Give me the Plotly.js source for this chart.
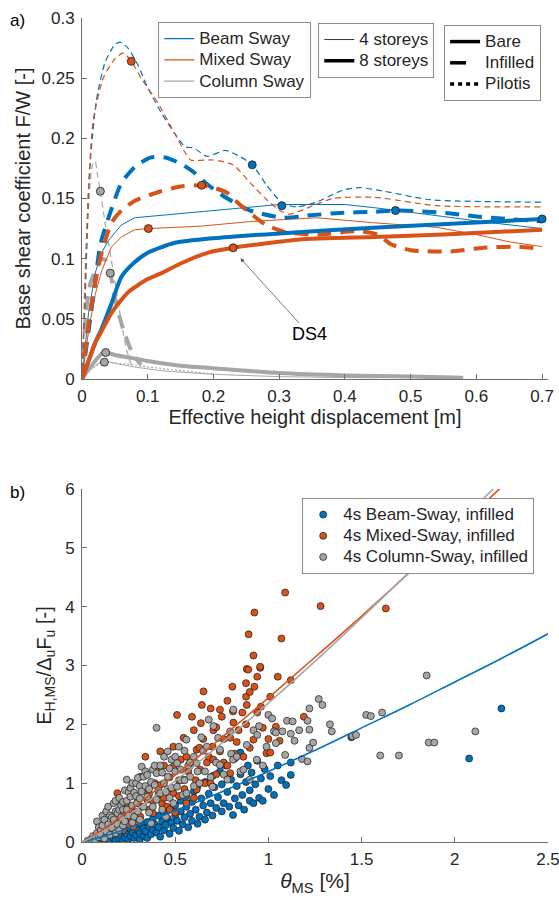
<!DOCTYPE html>
<html>
<head>
<meta charset="utf-8">
<script src="https://cdn.plot.ly/plotly-3.0.1.min.js"></script>
<style>html,body{margin:0;padding:0;background:#fff}#chart{width:559px;height:901px}</style>
</head>
<body>
<div id="chart"></div>
<script>
// ---------- Panel a) pushover curves ----------
const bsBare4X = [0,0.005,0.01,0.02,0.03,0.04,0.06,0.08,0.12,0.19,0.3,0.4,0.45,0.55,0.62,0.7];
const bsBare4Y = [0,0.03,0.055,0.088,0.105,0.115,0.128,0.134,0.136,0.139,0.145,0.145,0.142,0.135,0.13,0.125];
const msBare4X = [0,0.005,0.01,0.02,0.03,0.045,0.06,0.08,0.101,0.18,0.26,0.357,0.44,0.54,0.6,0.65,0.7];
const msBare4Y = [0,0.022,0.04,0.07,0.09,0.11,0.118,0.124,0.125,0.127,0.131,0.134,0.13,0.126,0.12,0.114,0.11];
const bsBare8X = [0,0.01,0.02,0.03,0.045,0.06,0.08,0.1,0.14,0.2,0.3,0.45,0.6,0.7];
const bsBare8Y = [0,0.015,0.03,0.042,0.063,0.085,0.097,0.105,0.113,0.117,0.121,0.126,0.13,0.133];
const msBare8X = [0,0.01,0.02,0.03,0.045,0.07,0.1,0.121,0.15,0.192,0.23,0.331,0.445,0.55,0.7];
const msBare8Y = [0,0.015,0.03,0.04,0.055,0.072,0.083,0.088,0.096,0.105,0.109,0.116,0.118,0.12,0.124];
const bsInf4X = [0,0.005,0.01,0.014,0.022,0.035,0.05,0.058,0.07,0.086,0.1,0.121,0.14,0.157,0.17,0.19,0.218,0.24,0.259,0.281,0.305,0.327,0.357,0.397,0.423,0.45,0.53,0.7];
const bsInf4Y = [0,0.07,0.155,0.19,0.232,0.263,0.278,0.28,0.275,0.26,0.242,0.221,0.205,0.193,0.192,0.185,0.19,0.185,0.178,0.161,0.146,0.143,0.147,0.157,0.159,0.157,0.149,0.147];
const msInf4X = [0,0.005,0.01,0.017,0.033,0.05,0.063,0.075,0.09,0.116,0.14,0.157,0.165,0.2,0.23,0.256,0.281,0.301,0.316,0.342,0.382,0.445,0.54,0.7];
const msInf4Y = [0,0.09,0.16,0.215,0.251,0.266,0.271,0.264,0.25,0.229,0.205,0.188,0.182,0.182,0.178,0.163,0.149,0.14,0.137,0.142,0.15,0.151,0.144,0.143];
const bsInf8X = [0,0.01,0.02,0.028,0.044,0.06,0.08,0.104,0.127,0.15,0.172,0.19,0.218,0.256,0.306,0.347,0.392,0.445,0.477,0.554,0.6,0.7];
const bsInf8Y = [0,0.04,0.08,0.112,0.14,0.163,0.176,0.184,0.184,0.179,0.171,0.162,0.151,0.14,0.134,0.136,0.138,0.139,0.14,0.138,0.135,0.131];
const msInf8X = [0,0.01,0.02,0.03,0.045,0.06,0.08,0.12,0.15,0.182,0.2,0.22,0.24,0.26,0.28,0.31,0.36,0.42,0.45,0.47,0.5,0.56,0.61,0.66,0.7];
const msInf8Y = [0,0.045,0.08,0.105,0.13,0.14,0.148,0.156,0.16,0.161,0.159,0.155,0.145,0.136,0.128,0.122,0.12,0.123,0.12,0.112,0.107,0.106,0.109,0.11,0.108];
const csInf4X = [0,0.004,0.008,0.012,0.016,0.02,0.024,0.028,0.035,0.048,0.06,0.068,0.076];
const csInf4Y = [0,0.06,0.12,0.16,0.178,0.181,0.168,0.156,0.13,0.088,0.047,0.024,0.01];
const csInf8X = [0,0.003,0.006,0.012,0.02,0.03,0.037,0.043,0.05,0.058,0.066,0.078,0.09];
const csInf8Y = [0,0.03,0.055,0.078,0.09,0.1,0.098,0.088,0.068,0.05,0.036,0.02,0.012];
const csBare8X = [0,0.01,0.02,0.03,0.036,0.05,0.07,0.1,0.15,0.2,0.3,0.4,0.5,0.58];
const csBare8Y = [0,0.008,0.015,0.021,0.022,0.02,0.018,0.015,0.011,0.009,0.005,0.003,0.002,0.001];
const csBare4X = [0,0.01,0.02,0.034,0.05,0.08,0.12,0.2,0.3,0.45];
const csBare4Y = [0,0.006,0.011,0.015,0.013,0.01,0.007,0.004,0.002,0.001];
const csPil4X = [0,0.01,0.03,0.06,0.1,0.15,0.2];
const csPil4Y = [0,0.007,0.014,0.013,0.01,0.007,0.004];
// DS4 points
const ds4BlueX = [0.259,0.304,0.477,0.70];
const ds4BlueY = [0.178,0.144,0.140,0.133];
const ds4OrangeX = [0.075,0.101,0.182,0.23];
const ds4OrangeY = [0.264,0.125,0.161,0.109];
const ds4GrayX = [0.028,0.043,0.036,0.034];
const ds4GrayY = [0.156,0.088,0.022,0.014];

// ---------- Panel b) energy vs drift ----------
const beamX = [0.04,0.06,0.07,0.09,0.1,0.11,0.12,0.13,0.14,0.15,0.16,0.17,0.18,0.18,0.2,0.2,0.21,0.22,0.23,0.23,0.24,0.25,0.26,0.26,0.27,0.28,0.29,0.29,0.3,0.31,0.31,0.32,0.33,0.33,0.34,0.35,0.35,0.36,0.37,0.38,0.38,0.39,0.4,0.41,0.41,0.42,0.43,0.44,0.44,0.45,0.46,0.47,0.47,0.48,0.49,0.5,0.5,0.51,0.52,0.53,0.53,0.54,0.55,0.56,0.56,0.57,0.58,0.59,0.59,0.6,0.61,0.62,0.62,0.63,0.64,0.65,0.66,0.66,0.67,0.68,0.69,0.7,0.7,0.71,0.72,0.73,0.74,0.75,0.75,0.76,0.77,0.78,0.79,0.8,0.81,0.82,0.82,0.83,0.84,0.85,0.85,0.86,0.87,0.88,0.89,0.9,0.9,0.91,0.92,0.93,0.94,0.95,0.96,0.97,0.98,1.0,1.01,1.03,1.05,1.07,1.095,1.12,1.12,1.445,2.077,2.25];
const beamY = [0.01,0.03,0.01,0.05,0.02,0.07,0.03,0.1,0.05,0.02,0.12,0.06,0.09,0.03,0.15,0.06,0.11,0.02,0.19,0.08,0.13,0.05,0.22,0.1,0.16,0.07,0.27,0.12,0.2,0.04,0.15,0.3,0.1,0.23,0.18,0.34,0.07,0.26,0.13,0.21,0.39,0.3,0.16,0.45,0.25,0.09,0.35,0.2,0.5,0.29,0.4,0.14,0.57,0.33,0.24,0.45,0.62,0.36,0.19,0.52,0.7,0.3,0.42,0.6,0.78,0.25,0.48,0.36,0.68,0.86,0.55,0.31,0.95,0.43,0.74,0.62,1.02,0.38,0.5,0.82,0.66,1.12,0.45,0.93,0.58,0.76,1.2,0.52,0.98,0.66,1.3,0.85,0.6,1.06,0.46,1.42,0.74,0.95,0.62,1.52,1.15,0.8,0.55,1.02,1.3,0.7,0.88,1.18,0.66,0.98,1.38,0.75,1.08,0.7,1.24,0.9,1.12,0.8,1.3,1.05,0.97,1.14,1.35,1.78,1.42,2.27];
const mixedX = [0.06,0.08,0.1,0.11,0.12,0.13,0.15,0.16,0.17,0.19,0.2,0.205,0.22,0.22,0.24,0.25,0.26,0.276,0.28,0.3,0.3,0.313,0.313,0.32,0.33,0.34,0.35,0.36,0.36,0.38,0.38,0.39,0.4,0.41,0.42,0.42,0.43,0.44,0.44,0.455,0.46,0.47,0.47,0.49,0.49,0.49,0.5,0.51,0.52,0.52,0.53,0.545,0.545,0.55,0.56,0.56,0.57,0.58,0.59,0.6,0.6,0.61,0.615,0.615,0.63,0.634,0.638,0.643,0.65,0.652,0.66,0.67,0.68,0.69,0.69,0.7,0.705,0.705,0.72,0.72,0.74,0.74,0.75,0.76,0.76,0.78,0.78,0.795,0.795,0.807,0.81,0.812,0.82,0.83,0.84,0.86,0.866,0.88,0.88,0.88,0.884,0.884,0.892,0.894,0.9,0.9,0.92,0.92,0.925,0.925,0.94,0.94,0.956,0.956,0.96,0.97,0.99,1.0,1.01,1.01,1.04,1.05,1.06,1.07,1.09,1.12,1.19,1.28,1.63];
const mixedY = [0.05,0.1,0.2,0.08,0.1,0.15,0.25,0.3,0.15,0.83,0.35,0.32,0.45,0.2,0.6,0.3,0.42,0.26,0.5,0.7,0.35,0.43,1.11,0.6,0.9,1.45,0.72,0.55,0.82,0.49,0.7,1.0,1.23,0.8,0.97,1.54,0.65,1.3,0.75,0.6,0.9,1.1,0.55,0.83,1.28,1.62,0.5,2.16,1.05,0.78,1.4,1.06,1.77,0.9,0.66,1.45,1.2,1.3,2.13,1.9,0.75,1.05,0.89,1.57,1.6,1.23,2.02,2.33,1.75,2.56,1.0,1.35,1.45,1.0,2.27,1.62,1.4,1.9,1.15,1.95,2.25,1.54,2.13,1.75,1.35,1.3,2.4,1.17,1.77,2.64,2.22,2.03,1.5,1.7,1.9,2.2,1.45,2.7,2.47,2.0,2.33,2.94,2.93,3.53,1.6,2.55,1.74,3.17,2.64,3.9,2.81,2.2,2.96,2.98,2.3,1.94,1.51,1.75,2.47,1.52,1.96,2.81,1.72,3.46,4.24,2.75,2.13,4.01,3.97];
const columnX = [0.03,0.05,0.06,0.07,0.08,0.08,0.09,0.09,0.1,0.1,0.11,0.11,0.12,0.12,0.13,0.13,0.14,0.14,0.15,0.15,0.16,0.16,0.17,0.17,0.18,0.18,0.18,0.19,0.19,0.2,0.2,0.2,0.21,0.21,0.22,0.22,0.22,0.23,0.23,0.24,0.24,0.24,0.25,0.25,0.26,0.26,0.27,0.27,0.27,0.28,0.28,0.29,0.29,0.295,0.3,0.3,0.31,0.31,0.31,0.32,0.32,0.33,0.33,0.34,0.34,0.35,0.35,0.36,0.36,0.37,0.37,0.38,0.38,0.39,0.39,0.4,0.4,0.4,0.41,0.42,0.42,0.43,0.43,0.44,0.44,0.45,0.45,0.46,0.46,0.47,0.47,0.48,0.48,0.49,0.5,0.5,0.51,0.51,0.52,0.53,0.53,0.54,0.55,0.55,0.56,0.56,0.57,0.58,0.58,0.6,0.6,0.615,0.62,0.63,0.64,0.65,0.66,0.67,0.68,0.69,0.7,0.705,0.72,0.73,0.74,0.74,0.76,0.78,0.795,0.8,0.81,0.812,0.83,0.85,0.866,0.884,0.9,0.92,0.938,0.94,0.95,0.97,0.99,1.0,1.02,1.03,1.04,1.04,1.075,1.09,1.1,1.12,1.13,1.14,1.165,1.18,1.21,1.22,1.24,1.22,1.21,1.22,1.27,1.29,1.33,1.34,1.45,1.47,1.525,1.55,1.61,1.6,1.7,1.849,1.86,1.89,2.11];
const columnY = [0.02,0.05,0.1,0.04,0.15,0.35,0.08,0.25,0.2,0.12,0.28,0.45,0.06,0.38,0.18,0.52,0.6,0.3,0.45,0.12,0.24,0.42,0.66,0.38,0.52,0.15,0.7,0.49,0.3,0.75,0.2,0.55,0.62,0.42,0.55,0.28,0.68,0.35,0.88,1.06,0.55,0.7,0.45,0.85,0.77,0.92,0.62,0.33,1.0,0.43,0.84,1.0,0.78,0.66,0.52,1.09,0.74,0.38,0.95,1.28,0.86,0.6,1.11,0.95,1.2,0.77,1.14,0.5,0.9,0.32,1.02,0.6,1.23,0.97,1.3,1.17,0.72,1.94,0.88,0.83,1.3,0.55,1.18,1.45,1.0,0.43,0.85,1.11,1.54,0.75,1.25,1.4,0.92,0.66,1.2,1.45,0.94,1.34,1.62,1.23,1.05,0.8,1.05,1.55,1.74,0.83,1.3,1.11,1.35,1.45,0.95,1.34,1.2,1.0,1.78,1.55,1.2,1.62,2.08,1.1,0.94,1.97,1.35,1.77,1.31,1.57,1.15,1.06,1.88,1.5,1.4,2.25,1.45,1.2,1.23,1.65,1.06,1.9,1.4,1.82,1.97,1.3,1.62,2.16,2.1,1.88,1.68,1.86,1.88,1.48,2.06,1.84,2.05,1.72,1.9,1.41,1.37,1.6,1.69,1.91,2.06,2.27,2.43,2.33,2.0,1.88,1.8,1.82,2.16,2.14,2.2,1.47,1.47,2.83,1.69,1.69,1.88];
// fitted curves
const fitBeamX = [0,0.1,0.25,0.5,0.75,1,1.25,1.5,1.75,2,2.25,2.5];
const fitBeamY = [0,0.079,0.234,0.53,0.854,1.2,1.56,1.94,2.32,2.72,3.12,3.54];
const fitMixedX = [0,0.1,0.25,0.5,0.75,1,1.25,1.5,1.75,2,2.3];
const fitMixedY = [0,0.19,0.526,1.135,1.78,2.45,3.14,3.84,4.56,5.29,6.18];
const fitColumnX = [0,0.1,0.25,0.5,0.75,1,1.25,1.5,1.75,2,2.3];
const fitColumnY = [0,0.155,0.46,1.04,1.68,2.36,3.07,3.81,4.57,5.35,6.3];

const BLUE = '#0072BD', ORANGE = '#D95319', GRAY = '#A6A6A6';
const FONT = 'Liberation Sans, Arial, Helvetica, sans-serif';
const TXT = '#262626';
const big = s => '<span style="font-size:17px">' + s + '</span>';

function ln(x, y, color, width, dash, shape) {
  return {x: x, y: y, xaxis: 'x', yaxis: 'y', mode: 'lines', showlegend: false, hoverinfo: 'skip',
          line: {color: color, width: width, dash: dash || 'solid', shape: shape || 'linear', smoothing: 0.6}};
}
function pts(x, y, color) {
  return {x: x, y: y, xaxis: 'x', yaxis: 'y', mode: 'markers', showlegend: false, hoverinfo: 'skip',
          marker: {color: color, size: 8, line: {color: '#1a1a1a', width: 0.8}}};
}
function leg(name, color, width, dash, legend) {
  return {x: [null], y: [null], xaxis: 'x', yaxis: 'y', mode: 'lines', name: big(name), legend: legend,
          showlegend: true, hoverinfo: 'skip', line: {color: color, width: width, dash: dash || 'solid'}};
}

const THIN_D = '6px,4px', THICK_D = '14px,9px';
const traces = [
  ln(csPil4X, csPil4Y, GRAY, 1.2, '2px,2px'),
  ln(csBare4X, csBare4Y, GRAY, 1, 'solid', 'spline'),
  ln(csBare8X, csBare8Y, GRAY, 4, 'solid', 'spline'),
  ln(csInf4X, csInf4Y, GRAY, 1.2, THIN_D, 'spline'),
  ln(csInf8X, csInf8Y, GRAY, 4, THICK_D, 'spline'),
  ln(bsBare4X, bsBare4Y, BLUE, 1, 'solid'),
  ln(msBare4X, msBare4Y, ORANGE, 1, 'solid'),
  ln(bsInf4X, bsInf4Y, BLUE, 1.2, THIN_D, 'spline'),
  ln(msInf4X, msInf4Y, ORANGE, 1.2, THIN_D, 'spline'),
  ln(bsInf8X, bsInf8Y, BLUE, 4, THICK_D, 'spline'),
  ln(msInf8X, msInf8Y, ORANGE, 4, THICK_D, 'spline'),
  ln(bsBare8X, bsBare8Y, BLUE, 4, 'solid', 'spline'),
  ln(msBare8X, msBare8Y, ORANGE, 4, 'solid', 'spline'),
  pts(ds4GrayX, ds4GrayY, GRAY),
  pts(ds4BlueX, ds4BlueY, BLUE),
  pts(ds4OrangeX, ds4OrangeY, ORANGE),
  leg('Beam Sway', BLUE, 1.3, 'solid', 'legend'),
  leg('Mixed Sway', ORANGE, 1.3, 'solid', 'legend'),
  leg('Column Sway', GRAY, 1.3, 'solid', 'legend'),
  leg('4 storeys', '#333', 1, 'solid', 'legend2'),
  leg('8 storeys', '#000', 3.5, 'solid', 'legend2'),
  leg('Bare', '#000', 3.5, 'solid', 'legend3'),
  leg('Infilled', '#000', 3.5, '16px,30px', 'legend3'),
  leg('Pilotis', '#000', 3.5, '4px,4px', 'legend3')
];
function sc(x, y, color, name, rank) {
  return {x: x, y: y, xaxis: 'x2', yaxis: 'y2', mode: 'markers', name: big(name), legend: 'legend4',
          legendrank: rank, hoverinfo: 'skip',
          marker: {color: color, size: 7, line: {color: '#1a1a1a', width: 0.7}}};
}
function fit(x, y, color) {
  return {x: x, y: y, xaxis: 'x2', yaxis: 'y2', mode: 'lines', showlegend: false, hoverinfo: 'skip',
          line: {color: color, width: 1.6, shape: 'spline'}};
}
traces.push(
  sc(beamX, beamY, BLUE, '4s Beam-Sway, infilled', 1),
  sc(mixedX, mixedY, ORANGE, '4s Mixed-Sway, infilled', 2),
  sc(columnX, columnY, GRAY, '4s Column-Sway, infilled', 3),
  fit(fitBeamX, fitBeamY, BLUE),
  fit(fitMixedX, fitMixedY, ORANGE),
  fit(fitColumnX, fitColumnY, GRAY)
);

const axBase = {showline: true, linecolor: '#6e6e6e', linewidth: 1, ticks: 'inside', ticklen: 5,
  tickcolor: '#6e6e6e', showgrid: false, zeroline: false, tickfont: {size: 17, color: TXT, family: FONT},
  mirror: false, ticklabeloverflow: 'allow'};
const legBase = {xanchor: 'left', yanchor: 'top', bgcolor: '#ffffff', bordercolor: '#8c8c8c', borderwidth: 1,
  font: {size: 14, color: TXT, family: FONT}, tracegroupgap: 0, itemwidth: 30};
const TF = {size: 20, color: TXT, family: FONT};

const layout = {
  width: 559, height: 901,
  margin: {l: 82, r: 11, t: 18, b: 59},
  paper_bgcolor: '#ffffff', plot_bgcolor: '#ffffff',
  font: {family: FONT, color: TXT, size: 17},
  xaxis: Object.assign({}, axBase, {anchor: 'y', domain: [0, 1], range: [0, 0.709], dtick: 0.1, tick0: 0,
    ticklabelstandoff: 2,
    title: {text: 'Effective height displacement [m]', font: TF, standoff: 4}}),
  yaxis: Object.assign({}, axBase, {anchor: 'x', domain: [0.5619, 1], range: [0, 0.3], dtick: 0.05, tick0: 0,
    ticklabelstandoff: 3,
    title: {text: 'Base shear coefficient F/W [-]', font: TF, standoff: 5}}),
  xaxis2: Object.assign({}, axBase, {anchor: 'y2', domain: [0, 1], range: [0, 2.5], dtick: 0.5, tick0: 0,
    ticklabelstandoff: 2,
    title: {text: '<i>θ</i><sub>MS</sub> [%]', font: {size: 21, color: TXT, family: FONT}, standoff: 4}}),
  yaxis2: Object.assign({}, axBase, {anchor: 'x2', domain: [0, 0.4284], range: [0, 6], dtick: 1, tick0: 0,
    ticklabelstandoff: 3,
    title: {text: 'E<sub>H,MS</sub>/Δ<sub>u</sub>F<sub>u</sub> [-]', font: TF, standoff: 8}}),
  legend: Object.assign({}, legBase, {x: 0.1636, y: 0.995}),
  legend2: Object.assign({}, legBase, {x: 0.507, y: 0.994}),
  legend3: Object.assign({}, legBase, {x: 0.777, y: 0.9915}),
  legend4: Object.assign({}, legBase, {x: 0.4725, y: 0.4175}),
  annotations: [
    {xref: 'paper', yref: 'paper', x: -0.158, y: 0.9964, xanchor: 'left', yanchor: 'middle',
     text: 'a)', showarrow: false, font: {size: 17, color: '#000'}},
    {xref: 'paper', yref: 'paper', x: -0.158, y: 0.4242, xanchor: 'left', yanchor: 'middle',
     text: 'b)', showarrow: false, font: {size: 17, color: '#000'}},
    {xref: 'x', yref: 'y', x: 0.241, y: 0.1003, axref: 'x', ayref: 'y', ax: 0.346, ay: 0.037,
     text: 'DS4', showarrow: true, arrowhead: 2, arrowsize: 1, arrowwidth: 0.8, arrowcolor: '#555',
     font: {size: 18, color: '#000'}}
  ]
};

Plotly.newPlot('chart', traces, layout, {displayModeBar: false, staticPlot: true});
</script>
</body>
</html>
